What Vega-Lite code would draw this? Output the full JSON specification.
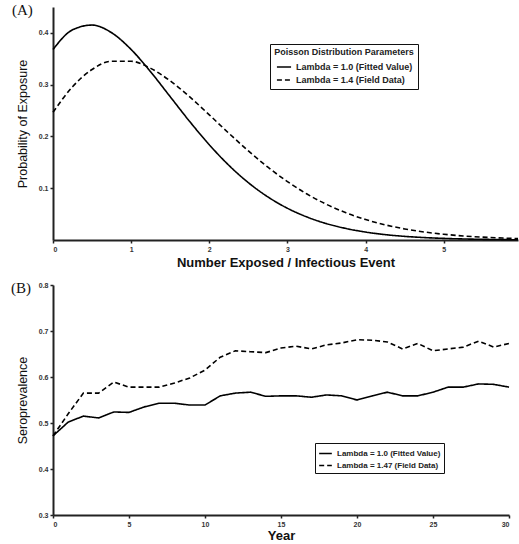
{
  "$schema": "https://vega.github.io/schema/vega-lite/v6.json",
  "background": "white",
  "padding": {"left": 11, "top": 3, "right": 0, "bottom": 0},
  "bounds": "flush",
  "spacing": 45,
  "config": {
    "view": {"stroke": null},
    "font": "Liberation Sans",
    "axis": {
      "domainColor": "#222",
      "domainWidth": 2,
      "tickColor": "#222",
      "tickWidth": 1.5,
      "tickSize": 3,
      "grid": false,
      "labelFont": "Liberation Sans",
      "labelFontSize": 7,
      "labelFontWeight": "bold",
      "labelColor": "#333",
      "labelPadding": 2,
      "titleFont": "Liberation Sans",
      "titleColor": "#111"
    },
    "legend": {
      "orient": "none",
      "symbolType": "stroke",
      "symbolStrokeColor": "black",
      "symbolStrokeWidth": 1.6,
      "strokeColor": "#111",
      "fillColor": "white",
      "labelFont": "Liberation Sans",
      "labelFontWeight": "bold",
      "labelColor": "#222",
      "titleFont": "Liberation Sans",
      "titleColor": "#222"
    },
    "title": {
      "font": "Liberation Serif",
      "fontSize": 15,
      "fontWeight": "normal",
      "color": "#111",
      "anchor": "start",
      "frame": "group",
      "baseline": "top",
      "offset": 0
    }
  },
  "datasets": {
    "poisson": [
      {"x": 0, "p": 0.3679, "series": "Lambda = 1.0 (Fitted Value)"},
      {"x": 0.25, "p": 0.4059, "series": "Lambda = 1.0 (Fitted Value)"},
      {"x": 0.5, "p": 0.4151, "series": "Lambda = 1.0 (Fitted Value)"},
      {"x": 0.75, "p": 0.4003, "series": "Lambda = 1.0 (Fitted Value)"},
      {"x": 1, "p": 0.3679, "series": "Lambda = 1.0 (Fitted Value)"},
      {"x": 1.25, "p": 0.3247, "series": "Lambda = 1.0 (Fitted Value)"},
      {"x": 1.5, "p": 0.2767, "series": "Lambda = 1.0 (Fitted Value)"},
      {"x": 1.75, "p": 0.2287, "series": "Lambda = 1.0 (Fitted Value)"},
      {"x": 2, "p": 0.1839, "series": "Lambda = 1.0 (Fitted Value)"},
      {"x": 2.25, "p": 0.1443, "series": "Lambda = 1.0 (Fitted Value)"},
      {"x": 2.5, "p": 0.1107, "series": "Lambda = 1.0 (Fitted Value)"},
      {"x": 2.75, "p": 0.0832, "series": "Lambda = 1.0 (Fitted Value)"},
      {"x": 3, "p": 0.0613, "series": "Lambda = 1.0 (Fitted Value)"},
      {"x": 3.25, "p": 0.0444, "series": "Lambda = 1.0 (Fitted Value)"},
      {"x": 3.5, "p": 0.0316, "series": "Lambda = 1.0 (Fitted Value)"},
      {"x": 3.75, "p": 0.0222, "series": "Lambda = 1.0 (Fitted Value)"},
      {"x": 4, "p": 0.0153, "series": "Lambda = 1.0 (Fitted Value)"},
      {"x": 4.25, "p": 0.0104, "series": "Lambda = 1.0 (Fitted Value)"},
      {"x": 4.5, "p": 0.0070, "series": "Lambda = 1.0 (Fitted Value)"},
      {"x": 4.75, "p": 0.0047, "series": "Lambda = 1.0 (Fitted Value)"},
      {"x": 5, "p": 0.0031, "series": "Lambda = 1.0 (Fitted Value)"},
      {"x": 5.25, "p": 0.0020, "series": "Lambda = 1.0 (Fitted Value)"},
      {"x": 5.5, "p": 0.0013, "series": "Lambda = 1.0 (Fitted Value)"},
      {"x": 5.75, "p": 0.0008, "series": "Lambda = 1.0 (Fitted Value)"},
      {"x": 5.95, "p": 0.0005, "series": "Lambda = 1.0 (Fitted Value)"},
      {"x": 0, "p": 0.2466, "series": "Lambda = 1.4 (Field Data)"},
      {"x": 0.25, "p": 0.2960, "series": "Lambda = 1.4 (Field Data)"},
      {"x": 0.5, "p": 0.3293, "series": "Lambda = 1.4 (Field Data)"},
      {"x": 0.75, "p": 0.3453, "series": "Lambda = 1.4 (Field Data)"},
      {"x": 1, "p": 0.3452, "series": "Lambda = 1.4 (Field Data)"},
      {"x": 1.25, "p": 0.3315, "series": "Lambda = 1.4 (Field Data)"},
      {"x": 1.5, "p": 0.3073, "series": "Lambda = 1.4 (Field Data)"},
      {"x": 1.75, "p": 0.2763, "series": "Lambda = 1.4 (Field Data)"},
      {"x": 2, "p": 0.2417, "series": "Lambda = 1.4 (Field Data)"},
      {"x": 2.25, "p": 0.2062, "series": "Lambda = 1.4 (Field Data)"},
      {"x": 2.5, "p": 0.1721, "series": "Lambda = 1.4 (Field Data)"},
      {"x": 2.75, "p": 0.1406, "series": "Lambda = 1.4 (Field Data)"},
      {"x": 3, "p": 0.1128, "series": "Lambda = 1.4 (Field Data)"},
      {"x": 3.25, "p": 0.0888, "series": "Lambda = 1.4 (Field Data)"},
      {"x": 3.5, "p": 0.0688, "series": "Lambda = 1.4 (Field Data)"},
      {"x": 3.75, "p": 0.0525, "series": "Lambda = 1.4 (Field Data)"},
      {"x": 4, "p": 0.0395, "series": "Lambda = 1.4 (Field Data)"},
      {"x": 4.25, "p": 0.0293, "series": "Lambda = 1.4 (Field Data)"},
      {"x": 4.5, "p": 0.0214, "series": "Lambda = 1.4 (Field Data)"},
      {"x": 4.75, "p": 0.0155, "series": "Lambda = 1.4 (Field Data)"},
      {"x": 5, "p": 0.0111, "series": "Lambda = 1.4 (Field Data)"},
      {"x": 5.25, "p": 0.0078, "series": "Lambda = 1.4 (Field Data)"},
      {"x": 5.5, "p": 0.0055, "series": "Lambda = 1.4 (Field Data)"},
      {"x": 5.75, "p": 0.0038, "series": "Lambda = 1.4 (Field Data)"},
      {"x": 5.95, "p": 0.0028, "series": "Lambda = 1.4 (Field Data)"}
    ],
    "sero": [
      {"year": 0, "v": 0.472, "series": "Lambda = 1.0 (Fitted Value)"},
      {"year": 1, "v": 0.502, "series": "Lambda = 1.0 (Fitted Value)"},
      {"year": 2, "v": 0.515, "series": "Lambda = 1.0 (Fitted Value)"},
      {"year": 3, "v": 0.511, "series": "Lambda = 1.0 (Fitted Value)"},
      {"year": 4, "v": 0.524, "series": "Lambda = 1.0 (Fitted Value)"},
      {"year": 5, "v": 0.523, "series": "Lambda = 1.0 (Fitted Value)"},
      {"year": 6, "v": 0.535, "series": "Lambda = 1.0 (Fitted Value)"},
      {"year": 7, "v": 0.543, "series": "Lambda = 1.0 (Fitted Value)"},
      {"year": 8, "v": 0.543, "series": "Lambda = 1.0 (Fitted Value)"},
      {"year": 9, "v": 0.539, "series": "Lambda = 1.0 (Fitted Value)"},
      {"year": 10, "v": 0.539, "series": "Lambda = 1.0 (Fitted Value)"},
      {"year": 11, "v": 0.559, "series": "Lambda = 1.0 (Fitted Value)"},
      {"year": 12, "v": 0.565, "series": "Lambda = 1.0 (Fitted Value)"},
      {"year": 13, "v": 0.567, "series": "Lambda = 1.0 (Fitted Value)"},
      {"year": 14, "v": 0.558, "series": "Lambda = 1.0 (Fitted Value)"},
      {"year": 15, "v": 0.559, "series": "Lambda = 1.0 (Fitted Value)"},
      {"year": 16, "v": 0.559, "series": "Lambda = 1.0 (Fitted Value)"},
      {"year": 17, "v": 0.556, "series": "Lambda = 1.0 (Fitted Value)"},
      {"year": 18, "v": 0.561, "series": "Lambda = 1.0 (Fitted Value)"},
      {"year": 19, "v": 0.559, "series": "Lambda = 1.0 (Fitted Value)"},
      {"year": 20, "v": 0.550, "series": "Lambda = 1.0 (Fitted Value)"},
      {"year": 21, "v": 0.559, "series": "Lambda = 1.0 (Fitted Value)"},
      {"year": 22, "v": 0.567, "series": "Lambda = 1.0 (Fitted Value)"},
      {"year": 23, "v": 0.559, "series": "Lambda = 1.0 (Fitted Value)"},
      {"year": 24, "v": 0.559, "series": "Lambda = 1.0 (Fitted Value)"},
      {"year": 25, "v": 0.567, "series": "Lambda = 1.0 (Fitted Value)"},
      {"year": 26, "v": 0.578, "series": "Lambda = 1.0 (Fitted Value)"},
      {"year": 27, "v": 0.578, "series": "Lambda = 1.0 (Fitted Value)"},
      {"year": 28, "v": 0.585, "series": "Lambda = 1.0 (Fitted Value)"},
      {"year": 29, "v": 0.584, "series": "Lambda = 1.0 (Fitted Value)"},
      {"year": 30, "v": 0.578, "series": "Lambda = 1.0 (Fitted Value)"},
      {"year": 0, "v": 0.472, "series": "Lambda = 1.47 (Field Data)"},
      {"year": 1, "v": 0.520, "series": "Lambda = 1.47 (Field Data)"},
      {"year": 2, "v": 0.565, "series": "Lambda = 1.47 (Field Data)"},
      {"year": 3, "v": 0.565, "series": "Lambda = 1.47 (Field Data)"},
      {"year": 4, "v": 0.589, "series": "Lambda = 1.47 (Field Data)"},
      {"year": 5, "v": 0.578, "series": "Lambda = 1.47 (Field Data)"},
      {"year": 6, "v": 0.578, "series": "Lambda = 1.47 (Field Data)"},
      {"year": 7, "v": 0.578, "series": "Lambda = 1.47 (Field Data)"},
      {"year": 8, "v": 0.587, "series": "Lambda = 1.47 (Field Data)"},
      {"year": 9, "v": 0.598, "series": "Lambda = 1.47 (Field Data)"},
      {"year": 10, "v": 0.615, "series": "Lambda = 1.47 (Field Data)"},
      {"year": 11, "v": 0.643, "series": "Lambda = 1.47 (Field Data)"},
      {"year": 12, "v": 0.657, "series": "Lambda = 1.47 (Field Data)"},
      {"year": 13, "v": 0.655, "series": "Lambda = 1.47 (Field Data)"},
      {"year": 14, "v": 0.653, "series": "Lambda = 1.47 (Field Data)"},
      {"year": 15, "v": 0.663, "series": "Lambda = 1.47 (Field Data)"},
      {"year": 16, "v": 0.667, "series": "Lambda = 1.47 (Field Data)"},
      {"year": 17, "v": 0.661, "series": "Lambda = 1.47 (Field Data)"},
      {"year": 18, "v": 0.670, "series": "Lambda = 1.47 (Field Data)"},
      {"year": 19, "v": 0.674, "series": "Lambda = 1.47 (Field Data)"},
      {"year": 20, "v": 0.681, "series": "Lambda = 1.47 (Field Data)"},
      {"year": 21, "v": 0.680, "series": "Lambda = 1.47 (Field Data)"},
      {"year": 22, "v": 0.676, "series": "Lambda = 1.47 (Field Data)"},
      {"year": 23, "v": 0.661, "series": "Lambda = 1.47 (Field Data)"},
      {"year": 24, "v": 0.673, "series": "Lambda = 1.47 (Field Data)"},
      {"year": 25, "v": 0.657, "series": "Lambda = 1.47 (Field Data)"},
      {"year": 26, "v": 0.661, "series": "Lambda = 1.47 (Field Data)"},
      {"year": 27, "v": 0.665, "series": "Lambda = 1.47 (Field Data)"},
      {"year": 28, "v": 0.678, "series": "Lambda = 1.47 (Field Data)"},
      {"year": 29, "v": 0.665, "series": "Lambda = 1.47 (Field Data)"},
      {"year": 30, "v": 0.673, "series": "Lambda = 1.47 (Field Data)"}
    ]
  },
  "resolve": {
    "scale": {"strokeDash": "independent"},
    "legend": {"strokeDash": "independent"}
  },
  "vconcat": [
    {
      "title": {"text": "(A)", "dx": -41, "dy": 15},
      "width": 465,
      "height": 233,
      "data": {"name": "poisson"},
      "mark": {"type": "line", "color": "black", "strokeWidth": 1.6, "interpolate": "monotone"},
      "encoding": {
        "x": {
          "field": "x", "type": "quantitative",
          "scale": {"domain": [0, 5.95], "nice": false},
          "axis": {
            "values": [0, 1, 2, 3, 4, 5], "format": "d",
            "title": "Number Exposed / Infectious Event",
            "titleFontSize": 13, "titleFontWeight": "bold", "titlePadding": 4
          }
        },
        "y": {
          "field": "p", "type": "quantitative",
          "scale": {"domain": [0, 0.45], "nice": false},
          "axis": {
            "values": [0.1, 0.2, 0.3, 0.4], "format": ".1f",
            "title": "Probability of Exposure",
            "titleFontSize": 12.5, "titleFontWeight": "normal", "titlePadding": 9
          }
        },
        "strokeDash": {
          "field": "series", "type": "nominal",
          "scale": {
            "domain": ["Lambda = 1.0 (Fitted Value)", "Lambda = 1.4 (Field Data)"],
            "range": [[1, 0], [5, 3]]
          },
          "legend": {
            "title": "Poisson Distribution Parameters",
            "titleFontSize": 9, "titleFontWeight": "bold", "titleAnchor": "middle",
            "titlePadding": 2,
            "labelFontSize": 9,
            "legendX": 217, "legendY": 37,
            "padding": 4, "rowPadding": 0,
            "symbolSize": 200
          }
        }
      }
    },
    {
      "title": {"text": "(B)", "dx": -42, "dy": 19},
      "width": 456,
      "height": 230,
      "data": {"name": "sero"},
      "mark": {"type": "line", "color": "black", "strokeWidth": 1.6},
      "encoding": {
        "x": {
          "field": "year", "type": "quantitative",
          "scale": {"domain": [0, 30], "nice": false},
          "axis": {
            "values": [0, 5, 10, 15, 20, 25, 30], "format": "d",
            "title": "Year",
            "titleFontSize": 13, "titleFontWeight": "bold", "titlePadding": 2
          }
        },
        "y": {
          "field": "v", "type": "quantitative",
          "scale": {"domain": [0.3, 0.8], "nice": false},
          "axis": {
            "values": [0.3, 0.4, 0.5, 0.6, 0.7, 0.8], "format": ".1f",
            "title": "Seroprevalence",
            "titleFontSize": 12.5, "titleFontWeight": "normal", "titlePadding": 9
          }
        },
        "strokeDash": {
          "field": "series", "type": "nominal",
          "scale": {
            "domain": ["Lambda = 1.0 (Fitted Value)", "Lambda = 1.47 (Field Data)"],
            "range": [[1, 0], [5, 3]]
          },
          "legend": {
            "title": null,
            "labelFontSize": 8,
            "legendX": 262, "legendY": 158,
            "padding": 3, "rowPadding": 0,
            "symbolSize": 160
          }
        }
      }
    }
  ]
}
